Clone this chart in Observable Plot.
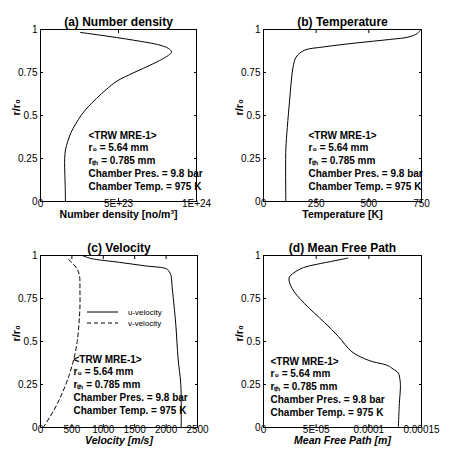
<!DOCTYPE html>
<html><head><meta charset="utf-8">
<script src="https://cdn.jsdelivr.net/npm/d3@7"></script>
<script src="https://cdn.jsdelivr.net/npm/@observablehq/plot@0.6"></script>
<style>
body{margin:0;background:#fff;}
#wrap{position:relative;width:451px;height:452px;background:#fff;font-family:"Liberation Sans",Arial,sans-serif;}
.panel{position:absolute;}
</style></head>
<body><div id="wrap"></div>
<script>
// ---- data ----
const yTicks = [0, 0.25, 0.5, 0.75, 1];
const yTickLabels = ["0", "0.25", "0.5", "0.75", "1"];

const nTicks = [0, 5e23, 1e24];
const nTickLabels = ["0", "5E+23", "1E+24"];
const tTicks = [0, 250, 500, 750];
const tTickLabels = ["0", "250", "500", "750"];
const vTicks = [0, 500, 1000, 1500, 2000, 2500];
const vTickLabels = ["0", "500", "1000", "1500", "2000", "2500"];
const mTicks = [0, 5e-5, 1e-4, 1.5e-4];
const mTickLabels = ["0", "5E-05", "0.0001", "0.00015"];

// (a) number density
const rDens = [0, 0.1, 0.2, 0.25, 0.3, 0.35, 0.4, 0.45, 0.5, 0.55, 0.6, 0.65, 0.7, 0.75, 0.8, 0.85, 0.87, 0.89, 0.909, 0.938, 0.967, 0.983];
const nDens = [1.6e23, 1.58e23, 1.55e23, 1.55e23, 1.6e23, 1.75e23, 1.95e23, 2.25e23, 2.6e23, 3.05e23, 3.6e23, 4.2e23, 4.9e23, 6.0e23, 7.2e23, 8.2e23, 8.4e23, 8.2e23, 7.66e23, 5.96e23, 3.83e23, 2.55e23];

// (b) temperature
const rTemp = [0, 0.3, 0.43, 0.59, 0.7, 0.78, 0.84, 0.879, 0.899, 0.922, 0.942, 0.957, 0.977, 0.996];
const tTemp = [106, 106, 113, 124, 132, 140, 155, 194, 287, 442, 598, 691, 730, 745];

// (c) velocity
const rU = [0, 0.25, 0.4, 0.6, 0.8, 0.889, 0.905, 0.922, 0.94, 0.96, 0.983, 1.0];
const uVel = [2240, 2234, 2191, 2154, 2101, 2074, 2050, 2010, 1660, 1260, 800, 665];
const rV = [0, 0.1, 0.2, 0.3, 0.4, 0.5, 0.6, 0.7, 0.8, 0.88, 0.92, 0.95, 0.975, 0.985];
const vVel = [43, 213, 346, 452, 532, 585, 612, 628, 628, 622, 585, 521, 452, 415];

// (d) mean free path
const rMfp = [0, 0.14, 0.24, 0.28, 0.317, 0.34, 0.36, 0.39, 0.44, 0.53, 0.61, 0.72, 0.81, 0.87, 0.9, 0.93, 0.948, 0.97, 0.985];
const mfp = [12.8e-5, 12.9e-5, 13.0e-5, 12.95e-5, 12.8e-5, 12.3e-5, 11.8e-5, 10.0e-5, 8.4e-5, 7.1e-5, 5.8e-5, 3.9e-5, 2.7e-5, 2.43e-5, 2.9e-5, 3.8e-5, 5.0e-5, 6.8e-5, 8.0e-5];

const noteLines = ["<TRW MRE-1>", "r\u2080 = 5.64 mm", "r\u209C\u2095 = 0.785 mm", "Chamber Pres. = 9.8 bar", "Chamber Temp. = 975 K"];
const titles = ["(a) Number density", "(b) Temperature", "(c) Velocity", "(d) Mean Free Path"];
const xLabels = ["Number density [no/m\u00B3]", "Temperature [K]", "Velocity [m/s]", "Mean Free Path [m]"];
const yLabel = "r/r\u2080";
const legendLabels = ["u-velocity", "v-velocity"];

const FONT = "'Liberation Sans', Arial, sans-serif";

function panel({width, ml, mr, xDomain, xTicks, xTickLabels, title, xLabel, xItalic, labelDy, noteDx, noteDy, lines}) {
  const blank = () => "";
  return Plot.plot({
    width, height: 226,
    marginLeft: ml, marginRight: mr, marginTop: 29, marginBottom: 25,
    x: {domain: xDomain},
    y: {domain: [0, 1]},
    style: {fontFamily: FONT, fontSize: "10px", color: "black", background: "white", overflow: "visible"},
    marks: [
      ...lines,
      Plot.frame({stroke: "black", strokeWidth: 1}),
      Plot.axisX({ticks: xTicks, tickFormat: d => xTickLabels[xTicks.indexOf(d)], tickSize: 0, tickPadding: -2, label: null, fontSize: 10}),
      Plot.axisY({ticks: yTicks, tickFormat: d => yTickLabels[yTicks.indexOf(d)], tickSize: 0, tickPadding: 3, label: null, fontSize: 10}),
      Plot.axisX({anchor: "bottom", ticks: xTicks, tickSize: -3, tickFormat: blank, label: null}),
      Plot.axisX({anchor: "top", ticks: xTicks, tickSize: -3, tickFormat: blank, label: null}),
      Plot.axisY({anchor: "left", ticks: yTicks, tickSize: -3, tickFormat: blank, label: null}),
      Plot.axisY({anchor: "right", ticks: yTicks, tickSize: -3, tickFormat: blank, label: null}),
      Plot.text([title], {frameAnchor: "top", dy: -12, fontSize: 12, fontWeight: "bold", text: d => d}),
      Plot.text([xLabel], {frameAnchor: "bottom", dy: labelDy, fontSize: 10.5, fontWeight: "bold", fontStyle: xItalic ? "italic" : "normal", text: d => d}),
      Plot.text([yLabel], {frameAnchor: "left", dx: -24, rotate: -90, fontSize: 11, fontWeight: "bold", text: d => d}),
      Plot.text([noteLines.join("\n")], {frameAnchor: "top-left", textAnchor: "start", lineAnchor: "top", lineHeight: 1.28, dx: noteDx, dy: noteDy, fontSize: 10, fontWeight: "bold", text: d => d})
    ]
  });
}

const dens = rDens.map((r, i) => ({r, v: nDens[i]}));
const temp = rTemp.map((r, i) => ({r, v: tTemp[i]}));
const uData = rU.map((r, i) => ({r, v: uVel[i]}));
const vData = rV.map((r, i) => ({r, v: vVel[i]}));
const mData = rMfp.map((r, i) => ({r, v: mfp[i]}));

const lineOpts = {x: "v", y: "r", curve: "catmull-rom", stroke: "black", strokeWidth: 1};

const pa = panel({width: 225, ml: 40, mr: 29, xDomain: [0, 1e24], xTicks: nTicks, xTickLabels: nTickLabels,
  title: titles[0], xLabel: xLabels[0], labelDy: 16, noteDx: 48, noteDy: 100, lines: [Plot.line(dens, lineOpts)]});
const pb = panel({width: 226, ml: 38, mr: 30, xDomain: [0, 750], xTicks: tTicks, xTickLabels: tTickLabels,
  title: titles[1], xLabel: xLabels[1], labelDy: 16, noteDx: 45, noteDy: 100, lines: [Plot.line(temp, lineOpts)]});
const pc = panel({width: 225, ml: 40, mr: 28, xDomain: [0, 2500], xTicks: vTicks, xTickLabels: vTickLabels,
  title: titles[2], xLabel: xLabels[2], xItalic: true, labelDy: 16, noteDx: 33, noteDy: 98,
  lines: [Plot.line(uData, lineOpts), Plot.line(vData, {...lineOpts, strokeDasharray: "4,3"})]});
const pd = panel({width: 226, ml: 38, mr: 30, xDomain: [0, 1.5e-4], xTicks: mTicks, xTickLabels: mTickLabels,
  title: titles[3], xLabel: xLabels[3], xItalic: true, labelDy: 16, noteDx: 7, noteDy: 100, lines: [Plot.line(mData, lineOpts)]});

const wrap = document.getElementById("wrap");
[[pa, 0, 0], [pb, 225, 0], [pc, 0, 226], [pd, 225, 226]].forEach(([p, x, y]) => {
  p.classList.add("panel");
  p.style.left = x + "px";
  p.style.top = y + "px";
  wrap.appendChild(p);
});

// legend for panel (c)
const ns = "http://www.w3.org/2000/svg";
const leg = document.createElementNS(ns, "svg");
leg.setAttribute("width", 80); leg.setAttribute("height", 24);
leg.style.position = "absolute"; leg.style.left = "85px"; leg.style.top = "306px";
legendLabels.forEach((lab, i) => {
  const yy = 6 + i * 11;
  const ln = document.createElementNS(ns, "line");
  ln.setAttribute("x1", 2); ln.setAttribute("x2", 33); ln.setAttribute("y1", yy); ln.setAttribute("y2", yy);
  ln.setAttribute("stroke", "black"); ln.setAttribute("stroke-width", 1);
  if (i === 1) ln.setAttribute("stroke-dasharray", "4,3");
  leg.appendChild(ln);
  const t = document.createElementNS(ns, "text");
  t.setAttribute("x", 43); t.setAttribute("y", yy); t.setAttribute("dy", "0.35em");
  t.setAttribute("font-size", 8); t.setAttribute("font-family", FONT);
  t.textContent = lab;
  leg.appendChild(t);
});
wrap.appendChild(leg);
</script>
</body></html>
